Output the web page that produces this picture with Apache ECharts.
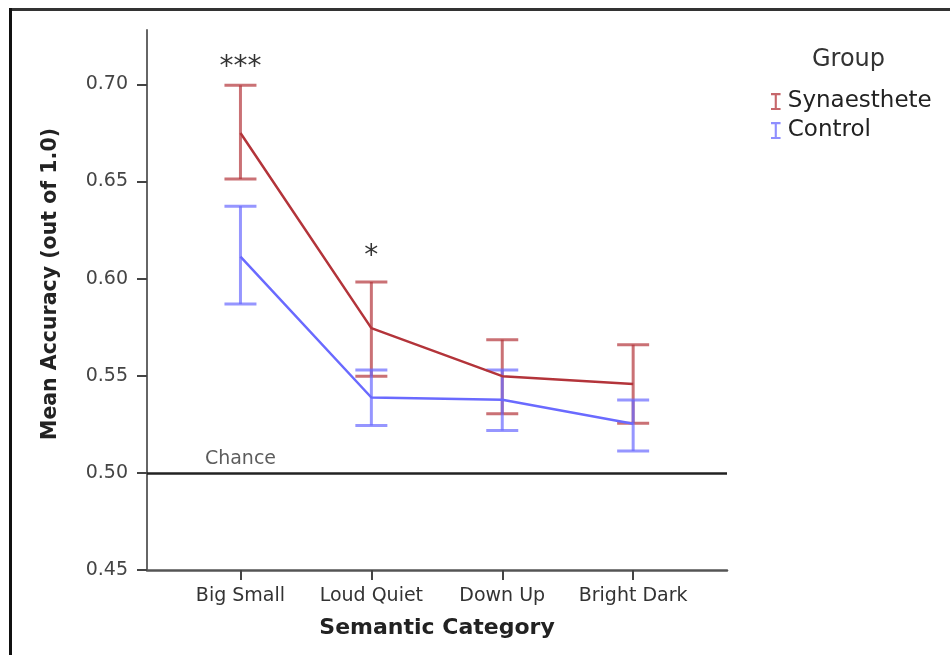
<!DOCTYPE html>
<html>
<head>
<meta charset="utf-8">
<script src="https://cdn.jsdelivr.net/npm/echarts@6/dist/echarts.min.js"></script>
<style>html,body{margin:0;padding:0;background:#fff;}#c{width:950px;height:655px;}</style>
</head>
<body>
<div id="c"></div>
<script>
var categories = ['Big Small', 'Loud Quiet', 'Down Up', 'Bright Dark'];
var synMean = [0.675, 0.5745, 0.5498, 0.5457];
var synLow  = [0.6513, 0.5498, 0.5304, 0.5256];
var synHigh = [0.6995, 0.5983, 0.5686, 0.5660];
var ctrlMean = [0.6113, 0.5388, 0.5376, 0.5253];
var ctrlLow  = [0.5869, 0.5244, 0.5218, 0.5113];
var ctrlHigh = [0.6373, 0.5530, 0.5530, 0.5375];
var yTicks = [0.45, 0.50, 0.55, 0.60, 0.65, 0.70];
var chanceLevel = 0.50;
var annotations = [
  {x: 0, y: 0.7108, text: '***'},
  {x: 1, y: 0.6131, text: '*'},
  {x: 0, y: 0.50, text: 'Chance'}
];

var synColor = '#b3343a';
var ctrlColor = '#6a6aff';
var FONT = 'DejaVu Sans';

function idxData(mean) { return mean.map(function (v, i) { return [i, v]; }); }
function errData(low, high) { return low.map(function (v, i) { return [i, v, high[i]]; }); }

function errRender(color) {
  return function (params, api) {
    var x = api.value(0);
    var lo = api.coord([x, api.value(1)]);
    var hi = api.coord([x, api.value(2)]);
    var w = 16;
    var style = {stroke: color, lineWidth: 3, opacity: 0.7};
    return {
      type: 'group',
      children: [
        {type: 'line', shape: {x1: lo[0], y1: lo[1], x2: hi[0], y2: hi[1]}, style: style},
        {type: 'line', shape: {x1: lo[0] - w, y1: lo[1], x2: lo[0] + w, y2: lo[1]}, style: style},
        {type: 'line', shape: {x1: hi[0] - w, y1: hi[1], x2: hi[0] + w, y2: hi[1]}, style: style}
      ]
    };
  };
}

var iconPath = 'path://M0,0 L9,0 L9,2 L5.5,2 L5.5,14 L9,14 L9,16 L0,16 L0,14 L3.5,14 L3.5,2 L0,2 Z';

var chart = echarts.init(document.getElementById('c'), null, {renderer: 'canvas'});
chart.setOption({
  backgroundColor: '#fff',
  animation: false,
  title: {
    text: 'Group', left: 807, top: 43,
    textStyle: {fontFamily: FONT, fontSize: 24, fontWeight: 'normal', color: '#333'}
  },
  legend: {
    orient: 'vertical', left: 766, top: 85, itemGap: 6,
    itemWidth: 10, itemHeight: 17,
    textStyle: {fontFamily: FONT, fontSize: 23, color: '#222', padding: [0, 0, 0, 2]},
    data: [
      {name: 'Synaesthete', icon: iconPath, itemStyle: {color: synColor, opacity: 0.75}},
      {name: 'Control', icon: iconPath, itemStyle: {color: ctrlColor, opacity: 0.75}}
    ]
  },
  grid: {left: 147, right: 223, top: 30, bottom: 85},
  xAxis: {
    type: 'value', min: -0.714, max: 3.717,
    name: 'Semantic Category', nameLocation: 'middle', nameGap: 47,
    nameTextStyle: {fontFamily: FONT, fontSize: 22, fontWeight: 'bold', color: '#222'},
    axisLine: {onZero: false, lineStyle: {color: '#555', width: 2.5}},
    axisTick: {show: true, customValues: [0, 1, 2, 3], length: 10, lineStyle: {color: '#444', width: 2}},
    axisLabel: {
      customValues: [0, 1, 2, 3], margin: 17,
      fontFamily: FONT, fontSize: 19, color: '#333',
      formatter: function (v) { return categories[Math.round(v)]; }
    },
    splitLine: {show: false}
  },
  yAxis: {
    type: 'value', min: 0.45, max: 0.728,
    name: 'Mean Accuracy (out of 1.0)', nameLocation: 'middle', nameGap: 86,
    nameTextStyle: {fontFamily: FONT, fontSize: 20.5, fontWeight: 'bold', color: '#222', padding: [0, 0, 0, 32]},
    axisLine: {show: true, onZero: false, lineStyle: {color: '#666', width: 2}},
    axisTick: {show: true, customValues: yTicks, length: 10, lineStyle: {color: '#444', width: 2}},
    axisLabel: {
      customValues: yTicks, margin: 19,
      fontFamily: FONT, fontSize: 19, color: '#444',
      formatter: function (v) { return v.toFixed(2); }
    },
    splitLine: {show: false}
  },
  series: [
    {
      name: 'Synaesthete', type: 'line', data: idxData(synMean),
      symbol: 'none', lineStyle: {color: synColor, width: 2.5}, itemStyle: {color: synColor}, z: 3,
      markLine: {
        silent: true, symbol: 'none', label: {show: false},
        lineStyle: {color: '#222', width: 2.5, type: 'solid'},
        data: [[{coord: [-0.714, chanceLevel]}, {coord: [3.717, chanceLevel]}]]
      }
    },
    {
      name: 'Control', type: 'line', data: idxData(ctrlMean),
      symbol: 'none', lineStyle: {color: ctrlColor, width: 2.5}, itemStyle: {color: ctrlColor}, z: 3
    },
    {
      name: 'Synaesthete', type: 'custom', renderItem: errRender(synColor),
      data: errData(synLow, synHigh), encode: {x: 0, y: [1, 2]}, z: 2
    },
    {
      name: 'Control', type: 'custom', renderItem: errRender(ctrlColor),
      data: errData(ctrlLow, ctrlHigh), encode: {x: 0, y: [1, 2]}, z: 2
    },
    {
      name: 'annotations', type: 'scatter', symbolSize: 0, silent: true,
      data: annotations.map(function (a) {
        var isStar = a.text.indexOf('*') === 0;
        return {
          value: [a.x, a.y], name: a.text,
          label: isStar
            ? {fontSize: 28, color: '#000', position: 'inside', offset: [0, 4]}
            : {fontSize: 19, color: '#333', position: 'top', distance: 4}
        };
      }),
      label: {
        show: true, fontFamily: FONT,
        formatter: function (p) { return p.name; }
      }
    }
  ],
  graphic: [
    {type: 'line', shape: {x1: 9, y1: 9.5, x2: 950, y2: 9.5}, style: {stroke: '#333', lineWidth: 3}},
    {type: 'line', shape: {x1: 10.5, y1: 8, x2: 10.5, y2: 655}, style: {stroke: '#111', lineWidth: 3}}
  ]
});
</script>
</body>
</html>
